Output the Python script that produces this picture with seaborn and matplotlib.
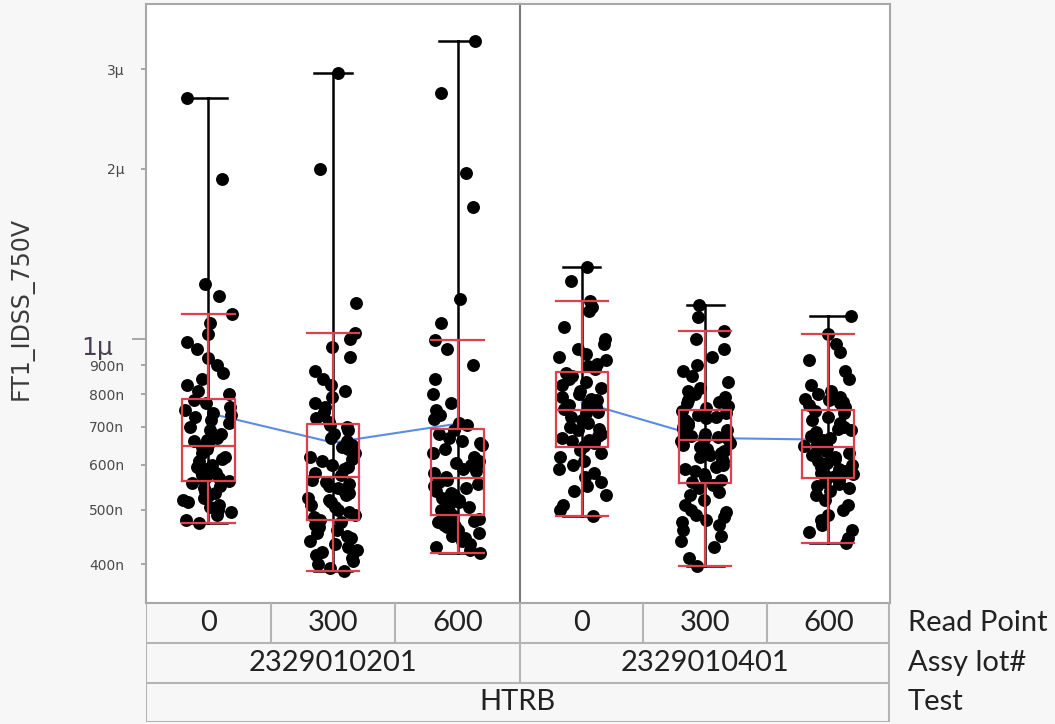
import numpy as np
import pandas as pd
import matplotlib
matplotlib.use("Agg")
import matplotlib.pyplot as plt
import matplotlib.transforms as mtransforms
from matplotlib.ticker import FixedLocator, FuncFormatter
import seaborn as sns

# ---------------- data (values in nA) ----------------
read_points = ["0", "300", "600"]
assy_lots = ["2329010201", "2329010401"]
test_name = "HTRB"
y_label = "FT1_IDSS_750V"

lot1_rp0 = [2670, 1920, 1250, 1190, 1110,
            1070, 1020, 990, 960, 925, 900, 870, 850, 830, 810, 800,
            780, 770, 760, 750, 740, 735, 730, 720, 710, 700, 690, 680, 670, 665, 660, 650,
            645, 640, 630, 620, 615, 610, 600, 595, 590, 585, 580, 575, 570, 568, 565, 562,
            558, 550, 545, 540, 535, 530, 525, 520, 515, 510, 505, 500, 495, 490, 480, 473]
lot1_rp300 = [2950, 2000, 1160, 1025, 1000, 970, 930, 880, 850, 830, 810, 790, 770, 760, 745, 735, 725, 715,
              705, 700, 690, 680, 670, 660, 650, 645, 640, 630, 620, 615, 610, 600, 595, 590, 580, 575,
              565, 560, 555, 550, 545, 540, 535, 530, 525, 520, 515, 510, 505, 500, 495, 490, 485, 480,
              475, 470, 465, 460, 455, 450, 445, 440, 435, 430, 425, 420, 415, 410, 405, 400, 395, 389]
lot1_rp600 = [3360, 2720, 1970, 1710, 1180, 1070, 995, 960, 900, 850, 800, 770, 750, 735, 722, 712, 705,
              690, 680, 670, 660, 655, 650, 640, 630, 620, 610, 605, 600, 595, 590, 585, 580, 572,
              565, 560, 555, 550, 545, 540, 535, 530, 525, 520, 515, 510, 505, 500, 497, 493, 490,
              485, 482, 478, 475, 472, 470, 468, 465, 460, 455, 450, 445, 440, 435, 430, 425, 419]
lot2_rp0 = [1340, 1265, 1167, 1140, 1120, 1050, 1000, 980, 960, 940, 930, 920, 905, 895, 885,
            870, 860, 850, 840, 830, 820, 810, 800, 790, 785, 780, 770, 765, 760, 752,
            745, 740, 730, 720, 710, 700, 695, 690, 680, 675, 670, 665, 660, 655, 648,
            638, 630, 620, 610, 600, 590, 580, 570, 560, 550, 540, 530, 510, 500, 487]
lot2_rp300 = [1150, 1095, 1035, 1000, 960, 930, 900, 880, 860, 840, 820, 810, 800, 790, 780, 775, 770, 762, 755,
              748, 742, 735, 730, 725, 720, 715, 710, 705, 700, 695, 690, 685, 680, 678, 675, 672, 670, 666,
              660, 655, 650, 645, 640, 635, 630, 625, 620, 615, 610, 600, 595, 590, 585, 578, 570, 565, 560,
              553, 545, 538, 530, 520, 510, 500, 495, 490, 485, 480, 475, 470, 460, 450, 440, 430, 410, 397]
lot2_rp600 = [1100, 1020, 980, 950, 920, 880, 850, 830, 810, 800, 790, 785, 780, 775, 770, 765, 758,
              748, 740, 730, 720, 710, 700, 695, 690, 685, 680, 675, 670, 665, 660, 655, 652, 648,
              642, 638, 635, 630, 625, 620, 615, 610, 605, 600, 595, 590, 585, 580, 577, 574, 571,
              565, 560, 555, 550, 545, 540, 530, 520, 510, 500, 490, 480, 470, 460, 456, 445, 437]

groups = {
    (assy_lots[0], "0"): lot1_rp0, (assy_lots[0], "300"): lot1_rp300, (assy_lots[0], "600"): lot1_rp600,
    (assy_lots[1], "0"): lot2_rp0, (assy_lots[1], "300"): lot2_rp300, (assy_lots[1], "600"): lot2_rp600,
}
rows = []
for (lot, rp), vals in groups.items():
    for v in vals:
        rows.append({"lot": lot, "rp": rp, "val": v * 1e-9})
df = pd.DataFrame(rows)

np.random.seed(7)

# ---------------- layout ----------------
W, H = 1055, 724
fig = plt.figure(figsize=(W / 100, H / 100), dpi=100, facecolor="#f7f7f7")

def fx(px):
    return px / W

def fy(py):
    return 1 - py / H

top, bottom = 4, 603
x0, xm, x1 = 146, 520, 890
ax1 = fig.add_axes([fx(x0), fy(bottom), (xm - x0) / W, (bottom - top) / H])
ax2 = fig.add_axes([fx(xm), fy(bottom), (x1 - xm) / W, (bottom - top) / H], sharey=ax1)

red = "#e0404c"
blue = "#5a8ce6"

# plot everything on linear scale first (arithmetic means, linear box stats)
for ax, lot in zip([ax1, ax2], assy_lots):
    ax.set_facecolor("white")
    sub = df[df["lot"] == lot]
    # range bars (min to max)
    sns.pointplot(data=sub, x="rp", y="val", order=read_points, estimator="mean",
                  errorbar=("pi", 100), capsize=0.3, color="black", marker="",
                  linestyle="none", err_kws={"linewidth": 1.8}, ax=ax)
    # cell means connected
    sns.pointplot(data=sub, x="rp", y="val", order=read_points, estimator="mean",
                  errorbar=None, color=blue, marker="", linewidth=1.5, ax=ax)
    # raw points
    sns.stripplot(data=sub, x="rp", y="val", order=read_points, color="black",
                  size=9.3, jitter=0.2, linewidth=0, zorder=3, ax=ax)
    # box plots
    sns.boxplot(data=sub, x="rp", y="val", order=read_points, fill=False, color=red,
                width=0.42, linewidth=1.6, showfliers=False, whis=1.5, zorder=4,
                capwidths=0.42, ax=ax)

for ax in [ax1, ax2]:
    ax.set_yscale("log")
    ax.set_xlim(-0.5, len(read_points) - 0.5)
    ax.set_xticks([])
    ax.set_xlabel("")
    ax.set_ylabel("")
    for s in ax.spines.values():
        s.set_color("#a8a8a8")
        s.set_linewidth(1.5)

ax1.set_ylim(3.42e-7, 3.91e-6)
ax1.spines["right"].set_visible(False)
ax2.spines["left"].set_color("#7a7a7a")

major_ticks = [1e-6]
minor_ticks = [4e-7, 5e-7, 6e-7, 7e-7, 8e-7, 9e-7, 2e-6, 3e-6]

def fmt(v, pos=None):
    if v >= 1e-6 - 1e-12:
        return f"{v * 1e6:.0f}µ"
    return f"{v * 1e9:.0f}n"

ax1.yaxis.set_major_locator(FixedLocator(major_ticks))
ax1.yaxis.set_minor_locator(FixedLocator(minor_ticks))
ax1.yaxis.set_major_formatter(FuncFormatter(fmt))
ax1.yaxis.set_minor_formatter(FuncFormatter(fmt))
ax1.tick_params(axis="y", which="major", length=10, width=1.2, color="#999999",
                pad=13.5, labelsize=18, labelcolor="#4a3f50")
ax1.tick_params(axis="y", which="minor", length=3.6, width=1.2, color="#999999",
                pad=12, labelsize=10, labelcolor="#4a4a4a")
ax2.tick_params(axis="y", which="both", left=False, labelleft=False)

# nudge the large "1µ" label slightly downward, as in the original
for tk in ax1.yaxis.get_major_ticks():
    tk.label1.set_transform(tk.label1.get_transform() +
                            mtransforms.ScaledTranslation(0, -6 / 100, fig.dpi_scale_trans))

fig.text(fx(22), fy(309), y_label, rotation=90, ha="center", va="center",
         fontsize=17, color="#3a3a3a", family="DejaVu Sans")

# ---------------- category table ----------------
tab = fig.add_axes([fx(x0), fy(722), (x1 - x0) / W, (722 - bottom) / H])
tab.set_xlim(x0, x1)
tab.set_ylim(722, bottom)
tab.axis("off")
line_c = "#b4b4b4"
row_edges = [603, 643, 683, 722]
tab.hlines(row_edges[1:], x0, x1, color=line_c, linewidth=1.5)
tab.vlines([x0 + 0.5, x1 - 0.5], bottom, 722, color=line_c, linewidth=1.5)
panel_edges = [(x0, xm), (xm, x1)]
tfont = dict(family="Lato", fontsize=21, color="#222222", ha="center", va="center")
for (a, b), lot in zip(panel_edges, assy_lots):
    n = len(read_points)
    step = (b - a) / n
    for i, rp in enumerate(read_points):
        if i > 0:
            tab.vlines(a + i * step, row_edges[0], row_edges[1], color=line_c, linewidth=1.5)
        tab.text(a + (i + 0.5) * step, (row_edges[0] + row_edges[1]) / 2, rp, **tfont)
    tab.text((a + b) / 2, (row_edges[1] + row_edges[2]) / 2, lot, **tfont)
tab.vlines(xm, row_edges[0], row_edges[2], color=line_c, linewidth=1.5)
tab.text((x0 + x1) / 2, (row_edges[2] + row_edges[3]) / 2, test_name, **tfont)

row_names = ["Read Point", "Assy lot#", "Test"]
for i, name in enumerate(row_names):
    fig.text(fx(908), fy((row_edges[i] + row_edges[i + 1]) / 2), name, family="Lato",
             fontsize=21, color="#222222", ha="left", va="center")

fig.savefig("out.png", dpi=100, facecolor=fig.get_facecolor())
